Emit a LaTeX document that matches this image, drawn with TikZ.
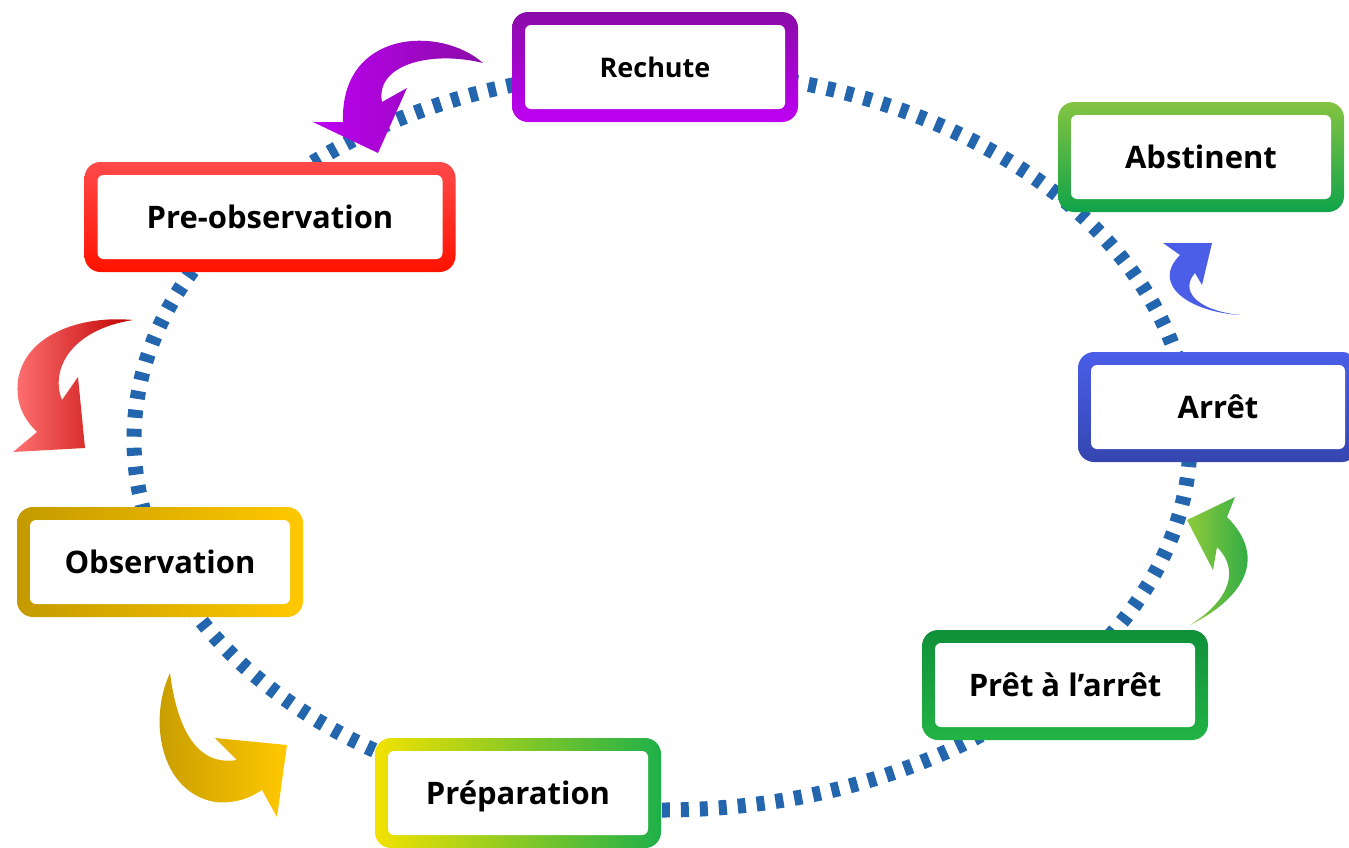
\documentclass[tikz,border=0pt]{standalone}
\usepackage{fontspec}
\setmainfont{Open Sans}
\usetikzlibrary{positioning}

\definecolor{ringblue}{HTML}{2466AE}
\definecolor{purpleA}{HTML}{8A0CA8}
\definecolor{purpleB}{HTML}{BE00F2}
\definecolor{redA}{HTML}{FF4A4A}
\definecolor{redB}{HTML}{FF1200}
\definecolor{goldA}{HTML}{C49A00}
\definecolor{goldB}{HTML}{FFC800}
\definecolor{prepA}{HTML}{F2E200}
\definecolor{prepB}{HTML}{8CCB00}
\definecolor{prepC}{HTML}{1FB04A}
\definecolor{pretA}{HTML}{10903A}
\definecolor{pretB}{HTML}{22B345}
\definecolor{blueA}{HTML}{4A5EE8}
\definecolor{blueB}{HTML}{3546B0}
\definecolor{absA}{HTML}{84C441}
\definecolor{absB}{HTML}{10A34A}

\tikzset{
  stage/.style={rounded corners=16pt, minimum width=286pt, minimum height=110pt,
    inner sep=0pt, text depth=0pt, font=\fontsize{31}{36}\selectfont\bfseries,
    path picture={\fill[white, rounded corners=6pt]
      ([shift={(13pt,-13pt)}]path picture bounding box.north west) rectangle
      ([shift={(-13pt,13pt)}]path picture bounding box.south east);}},
  ring/.style={ringblue, line width=15pt, dash pattern=on 8pt off 11pt}
}

\begin{document}
\begin{tikzpicture}[x=1pt, y=-1pt]
\useasboundingbox (0,0) rectangle (1349,847);

%dashed cycle behind the boxes
\draw[ring] (662,440) ellipse [x radius=528, y radius=370];

\node[stage, top color=purpleA, bottom color=purpleB, font=\fontsize{27}{32}\selectfont\bfseries] (rechute) at (655,67) {Rechute};
\node[stage, top color=absA, bottom color=absB] (abstinent) at (1201,157) {Abstinent};
\node[stage, minimum width=280pt, top color=blueA, bottom color=blueB] (arret) at (1218,407) {Arrêt};
\node[stage, top color=pretA, bottom color=pretB] (pret) at (1065,685) {Prêt à l’arrêt};
\node[stage, left color=prepA, middle color=prepB, right color=prepC] (prep) at (518,793) {Préparation};
\node[stage, left color=goldA, right color=goldB] (obs) at (160,562) {Observation};
\node[stage, minimum width=371pt, top color=redA, bottom color=redB] (preobs) at (270,217) {Pre-observation};

%curved arrows between the stages
\shade[left color=purpleB, right color=purpleA] (483,63) .. controls (440,25) and (340,30) .. (343,122)
  -- (313,122) -- (378,153) -- (407,88) -- (382,102) .. controls (375,65) and (430,50) .. (483,63) -- cycle;
\shade[left color=red!55!white, right color=red!75!black] (133,320) .. controls (80,315) and (25,335) .. (18,380)
  .. controls (15,405) and (25,420) .. (37,432) -- (13,452) -- (85,448) -- (78,377) -- (62,400)
  .. controls (50,370) and (70,330) .. (133,320) -- cycle;
\shade[left color=goldA, right color=goldB] (170,673) .. controls (148,720) and (160,792) .. (215,802)
  .. controls (235,804) and (250,798) .. (262,790) -- (277,817) -- (287,745) -- (215,738) -- (237,760)
  .. controls (200,766) and (178,735) .. (170,673) -- cycle;
\shade[left color=absA!90!yellow, right color=absB] (1190,625) .. controls (1240,600) and (1270,560) .. (1227,517)
  -- (1235,497) -- (1187,520) -- (1213,570) -- (1217,547) .. controls (1240,570) and (1230,600) .. (1190,625) -- cycle;
\fill[blueA] (1240,315) .. controls (1190,312) and (1150,285) .. (1180,255) -- (1163,243) -- (1212,243)
  -- (1202,285) -- (1195,273) .. controls (1180,290) and (1195,310) .. (1240,315) -- cycle;
\end{tikzpicture}
\end{document}
